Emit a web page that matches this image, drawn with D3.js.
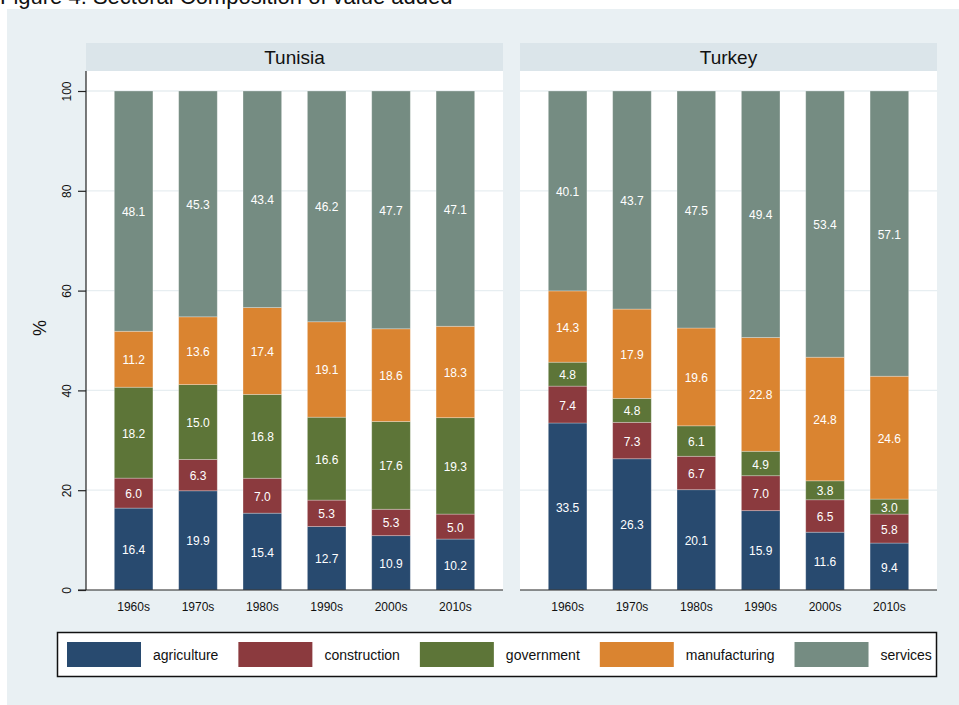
<!DOCTYPE html>
<html>
<head>
<meta charset="utf-8">
<script src="https://cdn.jsdelivr.net/npm/d3@7"></script>
<style>
  body { margin: 0; background: #fff; }
  svg { display: block; font-family: "Liberation Sans", Arial, sans-serif; }
  .grid line { stroke: #e7eef1; stroke-width: 1.3; }
</style>
</head>
<body>
<div id="chart"></div>
<script>
var width = 959,
    height = 705;

// data
var countries = ["Tunisia", "Turkey"];
var decades = ["1960s", "1970s", "1980s", "1990s", "2000s", "2010s"];
var sectors = ["agriculture", "construction", "government", "manufacturing", "services"];
var colors = ["#284a6f", "#8b3a3e", "#5d7538", "#da8430", "#758c82"];

var tunisia = {
  agriculture:   [16.4, 19.9, 15.4, 12.7, 10.9, 10.2],
  construction:  [6.0, 6.3, 7.0, 5.3, 5.3, 5.0],
  government:    [18.2, 15.0, 16.8, 16.6, 17.6, 19.3],
  manufacturing: [11.2, 13.6, 17.4, 19.1, 18.6, 18.3],
  services:      [48.1, 45.3, 43.4, 46.2, 47.7, 47.1]
};
var turkey = {
  agriculture:   [33.5, 26.3, 20.1, 15.9, 11.6, 9.4],
  construction:  [7.4, 7.3, 6.7, 7.0, 6.5, 5.8],
  government:    [4.8, 4.8, 6.1, 4.9, 3.8, 3.0],
  manufacturing: [14.3, 17.9, 19.6, 22.8, 24.8, 24.6],
  services:      [40.1, 43.7, 47.5, 49.4, 53.4, 57.1]
};
var yTicks = [0, 20, 40, 60, 80, 100];

var color = d3.scaleOrdinal().domain(sectors).range(colors);

var svg = d3.select("#chart").append("svg")
    .attr("width", width)
    .attr("height", height);

// title (mostly cut off at the top, as in the original)
svg.append("text")
    .attr("x", 0)
    .attr("y", 4)
    .style("font-size", "22px")
    .attr("fill", "#111")
    .text("Figure 4: Sectoral Composition of value added");

// outer graph region
svg.append("rect")
    .attr("x", 7).attr("y", 9)
    .attr("width", width - 7).attr("height", height - 9)
    .attr("fill", "#e9f0f3");

var y = d3.scaleLinear().domain([0, 100]).range([590, 91]);

var panels = [
  { name: countries[0], data: tunisia, x0: 86, x1: 503, axis: true },
  { name: countries[1], data: turkey, x0: 520, x1: 937, axis: false }
];

panels.forEach(function(p) {
  var g = svg.append("g");

  // header strip
  g.append("rect")
      .attr("x", p.x0).attr("y", 43)
      .attr("width", p.x1 - p.x0).attr("height", 28)
      .attr("fill", "#dbe5ea");
  g.append("text")
      .attr("x", (p.x0 + p.x1) / 2).attr("y", 64)
      .attr("text-anchor", "middle")
      .style("font-size", "19px")
      .attr("fill", "#111")
      .text(p.name);

  // plot region
  g.append("rect")
      .attr("x", p.x0).attr("y", 71)
      .attr("width", p.x1 - p.x0).attr("height", 590 - 71)
      .attr("fill", "#fff");

  // gridlines
  g.append("g")
      .attr("class", "grid")
    .selectAll("line")
      .data(yTicks.slice(1))
    .enter().append("line")
      .attr("x1", p.x0).attr("x2", p.x1)
      .attr("y1", function(d) { return y(d); })
      .attr("y2", function(d) { return y(d); });

  var x = d3.scaleBand()
      .domain(decades)
      .range([p.x0, p.x1])
      .paddingInner(0.4)
      .paddingOuter(0.44);

  // stack the sectors, each bar scaled to 100%
  var rows = decades.map(function(dec, i) {
    var r = { decade: dec };
    sectors.forEach(function(s) { r[s] = p.data[s][i]; });
    return r;
  });
  var series = d3.stack().keys(sectors).offset(d3.stackOffsetExpand)(rows);

  var layer = g.selectAll(".layer")
      .data(series)
    .enter().append("g")
      .attr("class", "layer")
      .attr("fill", function(d) { return color(d.key); });

  layer.selectAll("rect")
      .data(function(d) { return d; })
    .enter().append("rect")
      .attr("x", function(d) { return x(d.data.decade); })
      .attr("width", x.bandwidth())
      .attr("y", function(d) { return y(d[1] * 100); })
      .attr("height", function(d) { return y(d[0] * 100) - y(d[1] * 100); })
      .attr("stroke", "#ffffff")
      .attr("stroke-opacity", 0.35)
      .attr("stroke-width", 0.8);

  layer.selectAll("text")
      .data(function(d) { return d.map(function(v) { v.key = d.key; return v; }); })
    .enter().append("text")
      .attr("x", function(d) { return x(d.data.decade) + x.bandwidth() / 2; })
      .attr("y", function(d) { return y((d[0] + d[1]) * 50) + 5; })
      .attr("text-anchor", "middle")
      .attr("fill", "#fff")
      .style("font-size", "12px")
      .text(function(d) { return d3.format(".1f")(d.data[d.key]); });

  // x axis
  var xAxis = g.append("g")
      .attr("transform", "translate(0,590)")
      .call(d3.axisBottom(x).tickSize(0).tickPadding(12));
  xAxis.select(".domain").remove();
  xAxis.selectAll("text")
      .style("font-size", "12px")
      .attr("fill", "#111")
      .style("font-family", "'Liberation Sans', Arial, sans-serif");
  g.append("line")
      .attr("x1", p.axis ? p.x0 - 8 : p.x0).attr("x2", p.x1)
      .attr("y1", 590).attr("y2", 590)
      .attr("stroke", "#222").attr("stroke-width", 1.2);

  // y axis on first panel only
  if (p.axis) {
    var yAxis = g.append("g")
        .attr("transform", "translate(" + p.x0 + ",0)")
        .call(d3.axisLeft(y).tickValues(yTicks).tickSize(8).tickPadding(0));
    yAxis.select(".domain")
        .attr("d", "M0,71V590")
        .attr("stroke", "#222").attr("stroke-width", 1.2);
    yAxis.selectAll(".tick line").attr("stroke", "#222").attr("stroke-width", 1.2);
    yAxis.selectAll(".tick text")
        .attr("x", null).attr("dy", null)
        .attr("text-anchor", "middle")
        .attr("transform", "translate(-15,0) rotate(-90)")
        .attr("fill", "#111")
        .style("font-size", "12px")
        .style("font-family", "'Liberation Sans', Arial, sans-serif");

    g.append("text")
        .attr("transform", "translate(46,328) rotate(-90)")
        .attr("text-anchor", "middle")
        .style("font-size", "18px")
        .attr("fill", "#111")
        .text("%");
  }
});

// legend
var legend = svg.append("g");
legend.append("rect")
    .attr("x", 57.5).attr("y", 632.5)
    .attr("width", 879).attr("height", 44)
    .attr("fill", "#fff")
    .attr("stroke", "#111")
    .attr("stroke-width", 1.5);

var cursor = 67;
sectors.forEach(function(s) {
  legend.append("rect")
      .attr("x", cursor).attr("y", 642)
      .attr("width", 74).attr("height", 25)
      .attr("fill", color(s));
  var t = legend.append("text")
      .attr("x", cursor + 86).attr("y", 660)
      .style("font-size", "14px")
      .attr("fill", "#111")
      .text(s);
  cursor += 86 + t.node().getComputedTextLength() + 20;
});
</script>
</body>
</html>
